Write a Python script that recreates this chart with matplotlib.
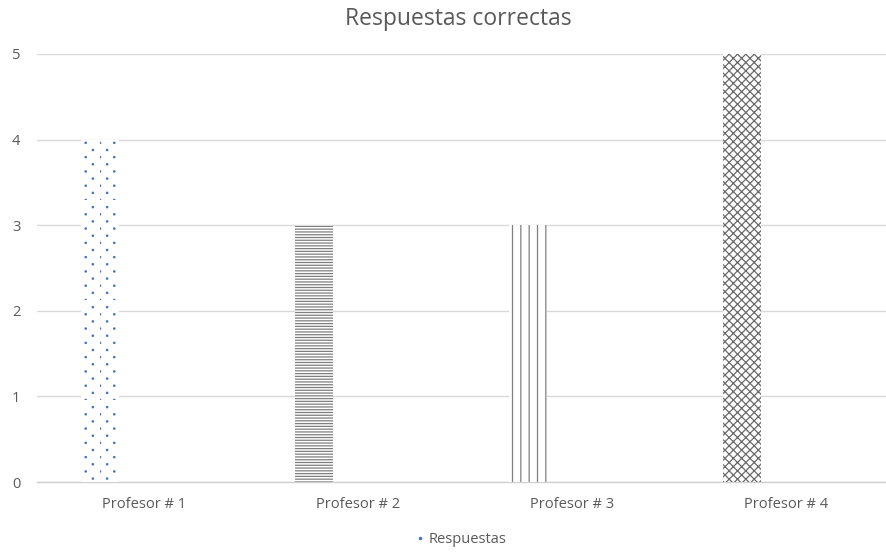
import numpy as np
import matplotlib
matplotlib.use("Agg")
import matplotlib.pyplot as plt
from matplotlib import hatch as mhatch
from matplotlib.path import Path
from matplotlib.lines import Line2D

# Data
profesores = ["Profesor # 1", "Profesor # 2", "Profesor # 3", "Profesor # 4"]
respuestas = [4, 3, 3, 5]
y_ticks = [0, 1, 2, 3, 4, 5]

# Bar styles (Excel-like pattern fills)
hatches = [".", "------", "||", "xxxx"]
hatch_colors = ["#4472C4", "#7f7f7f", "#7f7f7f", "#6a6a6a"]


# Excel "dotted" fill: tiny staggered dots, rows twice as dense as columns
class ExcelDots(mhatch.HatchPatternBase):
    def __init__(self, hatch, density):
        n = hatch.count(".")
        self.ncols = 7 * n
        self.nrows = 2 * self.ncols
        circle = Path.unit_circle()
        self.shape_vertices = circle.vertices
        self.shape_codes = circle.codes
        self.num_vertices = self.nrows * self.ncols * len(self.shape_vertices)

    def set_vertices_and_codes(self, vertices, codes):
        verts, cods = [], []
        for row in range(self.nrows):
            shift = 0.5 if row % 2 else 0.0
            for col in range(self.ncols):
                verts.append(self.shape_vertices * 0.0065
                             + [(col + shift) / self.ncols, row / self.nrows])
                cods.append(self.shape_codes)
        np.concatenate(verts, out=vertices)
        np.concatenate(cods, out=codes)


# swap matplotlib's '.' pattern for the Excel-like one
for i, t in enumerate(mhatch._hatch_types):
    if t is mhatch.SmallFilledCircles:
        mhatch._hatch_types[i] = ExcelDots

plt.rcParams["font.family"] = ["Open Sans", "DejaVu Sans"]
plt.rcParams["hatch.linewidth"] = 0.9

fig = plt.figure(figsize=(8.86, 5.52), dpi=100)
ax = fig.add_axes([37 / 886, 1 - 482 / 552, 1 - 37 / 886, (482 - 54) / 552])

x = np.arange(len(profesores))
for i in range(len(profesores)):
    ax.bar(x[i] - 0.205, respuestas[i], width=0.175, color="white",
           edgecolor=hatch_colors[i], linewidth=0, hatch=hatches[i], zorder=3)

ax.set_xlim(-0.5, 3.467)
ax.set_ylim(0, 5)
ax.set_yticks(y_ticks)
ax.set_xticks(x)
ax.set_xticklabels(profesores)
ax.tick_params(axis="both", length=0, labelsize=10.5, colors="#595959")
ax.tick_params(axis="x", pad=11)
ax.tick_params(axis="y", pad=12)

ax.grid(axis="y", color="#d9d9d9", linewidth=1, zorder=0)
for s in ["top", "right", "left"]:
    ax.spines[s].set_visible(False)
ax.spines["bottom"].set_color("#d0d0d0")
ax.spines["bottom"].set_linewidth(1)

fig.text(0.517, 0.966, "Respuestas correctas", ha="center", va="center",
         fontsize=16.5, color="#595959")

handle = Line2D([], [], marker=".", markersize=3, color="#4472C4", linestyle="none")
fig.legend([handle], ["Respuestas"], loc="center", bbox_to_anchor=(0.52, 0.022),
           frameon=False, fontsize=10.5, labelcolor="#595959",
           handlelength=0.6, handletextpad=0.3)

fig.savefig("out.png", dpi=100)
